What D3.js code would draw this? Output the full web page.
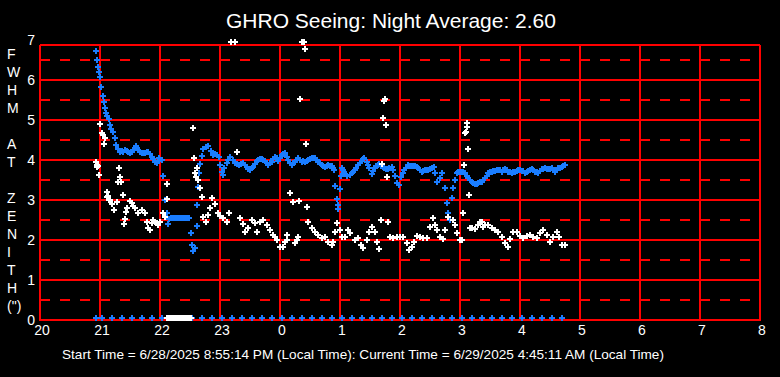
<!DOCTYPE html>
<html>
<head>
<meta charset="utf-8">
<script src="https://cdn.jsdelivr.net/npm/d3@7"></script>
<style>
  body { margin: 0; background: #000; }
  svg { display: block; font-family: "Liberation Sans", Arial, sans-serif; }
</style>
</head>
<body>
<div id="chart"></div>
<script>
// time is minutes after 20:00 local, values are FWHM in arcsec
const blueMin = [56, 57, 58, 59, 60, 61, 63, 64, 65, 66, 67, 69, 70, 71, 73, 75, 76, 78, 80, 82,
  83, 85, 87, 88, 90, 92, 93, 96, 97, 98, 100, 102, 103, 105, 107, 108, 110, 112, 113, 115,
  117, 118, 119, 122, 123, 125, 127, 128, 129, 131, 133, 135, 137, 139, 141, 143, 145, 147, 149, 151,
  152, 153, 155, 157, 157, 158, 159, 160, 162, 163, 166, 168, 171, 173, 175, 177, 179, 180, 182, 183,
  184, 187, 188, 190, 193, 195, 197, 199, 201, 203, 205, 207, 208, 210, 212, 213, 215, 217, 218, 220,
  222, 223, 225, 227, 228, 230, 232, 233, 235, 237, 238, 240, 242, 243, 245, 247, 248, 250, 252, 253,
  255, 257, 258, 260, 262, 263, 265, 267, 268, 270, 272, 273, 275, 277, 278, 280, 282, 283, 285, 287,
  288, 290, 292, 293, 294, 295, 297, 298, 298, 300, 301, 302, 303, 304, 305, 307, 310, 312, 313, 315,
  316, 318, 320, 322, 323, 324, 327, 328, 329, 332, 333, 335, 336, 338, 339, 341, 343, 344, 346, 348,
  349, 352, 353, 355, 357, 359, 361, 363, 364, 366, 368, 370, 372, 373, 375, 377, 378, 380, 382, 383,
  385, 387, 388, 390, 392, 394, 395, 397, 400, 402, 405, 407, 408, 410, 412, 413, 415, 417, 418, 420,
  422, 423, 425, 427, 428, 430, 432, 433, 435, 437, 438, 440, 442, 443, 445, 447, 448, 450, 452, 453,
  455, 457, 458, 460, 462, 463, 465, 467, 468, 470, 472, 473, 475, 477, 478, 480, 482, 483, 485, 487,
  488, 490, 492, 493, 495, 497, 498, 500, 502, 503, 505, 507, 508, 510, 512, 513, 515, 517, 518, 520,
  522, 523, 525];
const blueFwhm = [6.72, 6.49, 6.33, 6.19, 6.08, 5.82, 5.59, 5.45, 5.29, 5.18, 5.10, 5.02, 4.88, 4.77, 4.69, 4.54, 4.38, 4.28, 4.21, 4.22,
  4.21, 4.24, 4.23, 4.19, 4.18, 4.21, 4.25, 4.35, 4.30, 4.25, 4.20, 4.17, 4.17, 4.17, 4.20, 4.21, 4.15, 4.08, 4.02, 3.96,
  3.92, 3.98, 4.04, 4.00, 3.60, 3.00, 2.67, 2.40, 2.52, 2.55, 2.54, 2.56, 2.55, 2.54, 2.55, 2.56, 2.54, 2.55, 2.54, 2.17,
  1.87, 1.72, 1.81, 2.35, 2.87, 3.33, 3.67, 3.90, 4.10, 4.27, 4.32, 4.35, 4.23, 4.13, 4.14, 4.12, 4.08, 3.88, 3.71, 3.63,
  3.80, 3.92, 4.00, 4.08, 4.00, 3.92, 3.90, 3.88, 3.90, 3.92, 3.88, 3.83, 3.78, 3.75, 3.79, 3.83, 3.90, 3.98, 4.00, 4.02,
  4.02, 4.00, 3.98, 3.93, 3.88, 3.92, 3.96, 4.02, 4.08, 4.04, 3.98, 4.06, 4.12, 4.15, 4.17, 4.08, 4.00, 3.93, 3.88, 3.92,
  3.96, 4.00, 4.04, 4.00, 3.96, 3.97, 3.96, 3.98, 4.00, 4.02, 4.04, 4.04, 4.04, 4.00, 3.96, 3.92, 3.88, 3.86, 3.83, 3.85,
  3.88, 3.86, 3.85, 3.80, 3.75, 3.35, 3.02, 2.77, 2.88, 3.27, 3.60, 3.79, 3.75, 3.71, 3.65, 3.60, 3.63, 3.67, 3.71, 3.75,
  3.79, 3.88, 3.93, 3.98, 4.02, 4.04, 3.96, 3.88, 3.79, 3.65, 3.73, 3.80, 3.85, 3.88, 3.89, 3.86, 3.82, 3.80, 3.77, 3.77,
  3.79, 3.83, 3.75, 3.60, 3.42, 3.38, 3.58, 3.68, 3.74, 3.79, 3.88, 3.86, 3.85, 3.85, 3.85, 3.82, 3.79, 3.75, 3.71, 3.73,
  3.75, 3.75, 3.75, 3.77, 3.79, 3.83, 3.67, 3.46, 3.54, 3.67, 3.29, 2.92, 2.67, 2.50, 3.04, 3.29, 3.50, 3.67, 3.71, 3.71,
  3.71, 3.70, 3.67, 3.60, 3.54, 3.50, 3.46, 3.43, 3.40, 3.41, 3.43, 3.44, 3.46, 3.50, 3.54, 3.60, 3.67, 3.70, 3.71, 3.73,
  3.73, 3.74, 3.75, 3.74, 3.71, 3.74, 3.77, 3.75, 3.71, 3.70, 3.68, 3.70, 3.71, 3.73, 3.75, 3.74, 3.73, 3.72, 3.68, 3.70,
  3.73, 3.75, 3.77, 3.75, 3.71, 3.70, 3.68, 3.73, 3.77, 3.78, 3.79, 3.78, 3.77, 3.78, 3.79, 3.75, 3.71, 3.75, 3.79, 3.81,
  3.83, 3.85, 3.88];

const whiteMin = [56, 57, 57, 58, 59, 60, 62, 63, 64, 65, 67, 67, 68, 69, 70, 72, 74, 77, 78, 79,
  80, 81, 83, 84, 85, 86, 87, 90, 92, 93, 95, 98, 102, 105, 107, 108, 110, 112, 113, 115,
  117, 118, 120, 123, 125, 127, 127, 153, 154, 155, 156, 157, 158, 160, 162, 163, 166, 168, 170, 172,
  175, 178, 180, 183, 187, 189, 191, 195, 197, 200, 203, 205, 208, 212, 215, 217, 220, 223, 227, 230,
  233, 235, 237, 240, 243, 245, 247, 247, 250, 253, 255, 257, 258, 259, 260, 262, 264, 265, 266, 267,
  268, 272, 275, 278, 282, 285, 288, 292, 293, 295, 297, 300, 302, 305, 308, 310, 315, 318, 321, 323,
  327, 329, 332, 335, 337, 339, 341, 342, 343, 344, 345, 346, 347, 348, 350, 353, 357, 360, 363, 367,
  369, 372, 374, 377, 380, 383, 387, 390, 393, 395, 397, 400, 403, 405, 408, 413, 415, 417, 420, 422,
  423, 424, 425, 426, 427, 427, 428, 429, 430, 432, 435, 438, 440, 442, 443, 445, 448, 452, 455, 458,
  462, 465, 468, 470, 473, 477, 480, 483, 487, 490, 493, 497, 500, 503, 507, 510, 513, 517, 519, 522,
  525];
const whiteFwhm = [3.94, 3.88, 3.83, 3.85, 3.63, 4.89, 4.67, 4.63, 4.39, 4.54, 3.21, 3.08, 3.10, 3.00, 3.00, 2.90, 2.75, 2.96, 3.46, 3.79,
  3.58, 3.46, 3.13, 2.40, 2.52, 2.71, 2.79, 2.98, 2.92, 2.85, 2.79, 2.67, 2.75, 2.67, 2.46, 2.29, 2.25, 2.42, 2.50, 2.46,
  2.42, 2.38, 2.46, 2.67, 2.58, 3.02, 3.39, 4.79, 4.04, 3.67, 3.58, 3.79, 3.50, 3.29, 3.08, 2.58, 2.46, 2.63, 2.79, 3.04,
  2.90, 2.67, 2.60, 2.54, 2.46, 2.67, 6.94, 6.94, 4.19, 2.54, 2.40, 2.21, 2.29, 2.50, 2.42, 2.19, 2.46, 2.50, 2.38, 2.25,
  2.13, 2.08, 2.00, 1.83, 1.83, 1.96, 2.00, 2.13, 3.17, 2.96, 1.92, 2.00, 2.08, 2.97, 5.52, 6.94, 6.94, 6.77, 4.39, 2.82,
  2.46, 2.29, 2.21, 2.13, 2.04, 2.07, 1.96, 1.88, 1.96, 2.21, 2.42, 2.25, 2.07, 2.07, 2.25, 2.17, 2.00, 2.04, 1.88, 1.79,
  2.00, 2.21, 2.33, 2.21, 1.96, 1.77, 2.50, 3.90, 5.04, 5.47, 5.52, 4.87, 3.57, 2.46, 2.07, 2.04, 2.08, 2.07, 2.08, 1.92,
  1.75, 1.83, 1.96, 2.10, 2.08, 2.04, 2.04, 2.33, 2.54, 2.38, 2.25, 2.07, 2.02, 2.25, 2.58, 2.50, 2.38, 2.17, 2.00, 2.00,
  2.67, 3.88, 4.68, 4.69, 4.82, 4.92, 4.27, 3.13, 2.29, 2.29, 2.27, 2.38, 2.46, 2.46, 2.33, 2.38, 2.38, 2.29, 2.25, 2.21,
  2.08, 1.92, 1.83, 2.02, 2.21, 2.21, 2.10, 2.04, 2.10, 2.13, 2.08, 2.04, 2.17, 2.25, 2.13, 1.96, 2.08, 2.21, 2.08, 1.88,
  1.88];

// readings that sit on the zero line
const blueZeroMin = [56, 62, 72, 82, 92, 102, 112, 122, 132, 142, 152, 162, 172, 182, 192, 202, 212, 222, 232, 242,
  252, 262, 272, 282, 292, 302, 312, 322, 332, 342, 352, 362, 372, 382, 392, 402, 412, 422, 432, 442,
  452, 462, 472, 482, 492, 502, 512, 522];
const whiteZeroMin = [127, 129, 131, 133, 135, 137, 139, 141, 143, 145, 147, 149, 151];
const zeroValue = 0.04;

const hourTicks = [0, 60, 120, 180, 240, 300, 360, 420, 480, 540, 600, 660, 720];
const hourLabels = ["20", "21", "22", "23", "0", "1", "2", "3", "4", "5", "6", "7", "8"];
const yTicks = [0, 1, 2, 3, 4, 5, 6, 7];
const yHalf = [0.5, 1.5, 2.5, 3.5, 4.5, 5.5, 6.5];
const yLabel = ["F", "W", "H", "M", "", "A", "T", "", "Z", "E", "N", "I", "T", "H", "(\")"];

const title = "GHRO Seeing: Night Average: 2.60";
const footer = "Start Time = 6/28/2025 8:55:14 PM (Local Time): Current Time = 6/29/2025 4:45:11 AM (Local Time)";

const width = 780, height = 377;
const frameTop = 6.875;

const svg = d3.select("#chart")
    .append("svg")
    .attr("width", width)
    .attr("height", height);

svg.append("rect")
    .attr("width", width)
    .attr("height", height)
    .attr("fill", "#000");

const x = d3.scaleLinear().domain([0, 720]).range([40, 760]);
const y = d3.scaleLinear().domain([0, 7]).range([320, 40]);

const grid = svg.append("g").attr("stroke", "#ff0000").attr("stroke-width", 2);

// dashed half-unit lines
grid.selectAll(".half")
    .data(yHalf)
    .join("line")
    .attr("x1", x(0)).attr("x2", x(720))
    .attr("y1", d => Math.round(y(d))).attr("y2", d => Math.round(y(d)))
    .attr("stroke-dasharray", "10,10");

// solid unit lines
grid.selectAll(".whole")
    .data(yTicks.filter(d => d < 7))
    .join("line")
    .attr("x1", x(0)).attr("x2", x(720))
    .attr("y1", d => y(d)).attr("y2", d => y(d));

grid.append("line")
    .attr("x1", x(0)).attr("x2", x(720))
    .attr("y1", y(frameTop)).attr("y2", y(frameTop));

grid.selectAll(".vert")
    .data(hourTicks)
    .join("line")
    .attr("x1", d => x(d)).attr("x2", d => x(d))
    .attr("y1", y(frameTop)).attr("y2", y(0) + 1);

// plus markers
const plus = "M-3,0H3M0,-3V3";

const drawPoints = (mins, vals, color) => {
    svg.append("g")
        .selectAll("path")
        .data(mins.map((m, i) => [m, vals[i]]))
        .join("path")
        .attr("d", plus)
        .attr("transform", d => `translate(${Math.round(x(d[0]))},${Math.round(y(d[1]))})`)
        .attr("stroke", color)
        .attr("stroke-width", 2)
        .attr("shape-rendering", "crispEdges")
        .attr("fill", "none");
};

const blue = "#1a7dff";
drawPoints(blueZeroMin, blueZeroMin.map(() => zeroValue), blue);
drawPoints(blueMin, blueFwhm, blue);
drawPoints(whiteZeroMin, whiteZeroMin.map(() => zeroValue), "#fff");
drawPoints(whiteMin, whiteFwhm, "#fff");

// axis labels
svg.append("g")
    .selectAll("text")
    .data(hourTicks)
    .join("text")
    .attr("x", d => x(d) + 2)
    .attr("y", y(0) + 15)
    .attr("text-anchor", "middle")
    .attr("fill", "#fff")
    .attr("font-size", 14)
    .text((d, i) => hourLabels[i]);

svg.append("g")
    .selectAll("text")
    .data(yTicks)
    .join("text")
    .attr("x", 35)
    .attr("y", d => y(d) + 5)
    .attr("text-anchor", "end")
    .attr("fill", "#fff")
    .attr("font-size", 14)
    .text(d => d);

svg.append("g")
    .selectAll("text")
    .data(yLabel)
    .join("text")
    .attr("x", 7)
    .attr("y", (d, i) => 58.5 + i * 18)
    .attr("fill", "#fff")
    .attr("font-size", 14)
    .text(d => d);

svg.append("text")
    .attr("x", 391)
    .attr("y", 28)
    .attr("text-anchor", "middle")
    .attr("fill", "#fff")
    .attr("font-size", 21)
    .text(title);

svg.append("text")
    .attr("x", 62)
    .attr("y", 359)
    .attr("fill", "#fff")
    .attr("font-size", 13.6)
    .text(footer);
</script>
</body>
</html>
